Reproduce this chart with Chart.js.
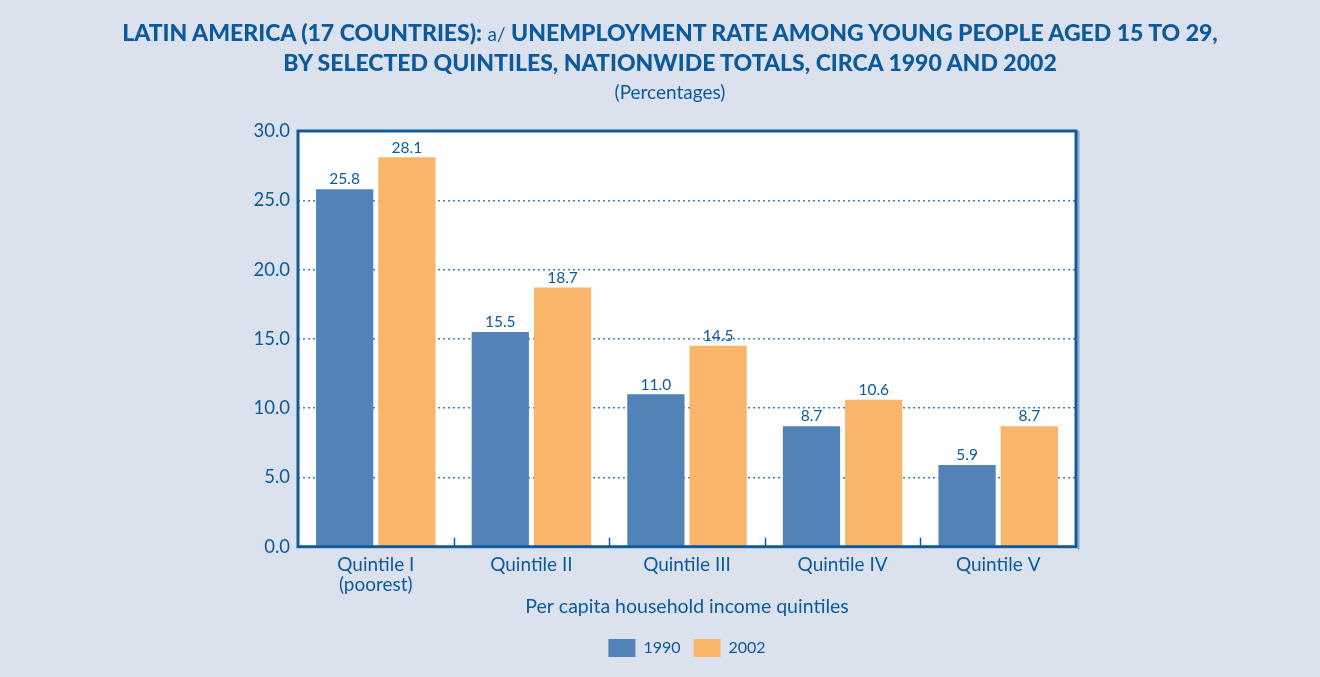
<!DOCTYPE html>
<html>
<head>
<meta charset="utf-8">
<script src="https://cdn.jsdelivr.net/npm/chart.js@4/dist/chart.umd.min.js"></script>
<style>
  html, body { margin: 0; padding: 0; background: #dce1ee; }
  #wrap { position: relative; width: 1320px; height: 677px; }
  #title { position: absolute; left: 0; top: 18px; width: 1340px; text-align: center;
           font-family: Lato, sans-serif; color: #0b5a9c; }
  #title .main { font-weight: 900; font-size: 23px; line-height: 29px; }
  #title .note { font-weight: normal; font-size: 19px; }
  #title .sub { font-size: 19px; line-height: 30px; }
  canvas { position: absolute; left: 0; top: 0; }
</style>
</head>
<body>
<div id="wrap">
  <canvas id="myChart" width="1320" height="677"></canvas>
  <div id="title">
    <div class="main">LATIN AMERICA (17 COUNTRIES): <span class="note">a/</span> UNEMPLOYMENT RATE AMONG YOUNG PEOPLE AGED 15 TO 29,</div>
    <div class="main">BY SELECTED QUINTILES, NATIONWIDE TOTALS, CIRCA 1990 AND 2002</div>
    <div class="sub">(Percentages)</div>
  </div>
</div>
<script>
// Chart data
const quintiles = [['Quintile I', '(poorest)'], 'Quintile II', 'Quintile III', 'Quintile IV', 'Quintile V'];
const rate1990 = [25.8, 15.5, 11.0, 8.7, 5.9];
const rate2002 = [28.1, 18.7, 14.5, 10.6, 8.7];
const yTicks = [0, 5, 10, 15, 20, 25, 30];

const textBlue = '#0b5a9c';
const frameBlue = '#0f5b9b';

// white plot background
const plotBg = {
    id: 'plotBg',
    beforeDraw(chart) {
        const { ctx, chartArea: a } = chart;
        ctx.save();
        ctx.fillStyle = '#ffffff';
        ctx.fillRect(a.left, a.top, a.right - a.left, a.bottom - a.top);
        ctx.restore();
    }
};

// frame around plot, inward ticks between categories, value labels
const framePlugin = {
    id: 'framePlugin',
    afterDatasetsDraw(chart) {
        const { ctx, chartArea: a, scales } = chart;
        const x = scales.x;
        ctx.save();
        // ticks between categories
        ctx.strokeStyle = frameBlue;
        ctx.lineWidth = 1.5;
        const step = (a.right - a.left) / quintiles.length;
        for (let i = 1; i < quintiles.length; i++) {
            const px = Math.round(x.getPixelForValue(i) - step / 2) + 0.5;
            ctx.beginPath();
            ctx.moveTo(px, a.bottom);
            ctx.lineTo(px, a.bottom - 9);
            ctx.stroke();
        }
        // light shadow on right
        ctx.strokeStyle = '#7fa8d4';
        ctx.lineWidth = 2;
        ctx.beginPath();
        ctx.moveTo(a.right + 2.5, a.top);
        ctx.lineTo(a.right + 2.5, a.bottom + 3);
        ctx.stroke();
        // frame
        ctx.strokeStyle = frameBlue;
        ctx.lineWidth = 3;
        ctx.strokeRect(a.left, a.top, a.right - a.left, a.bottom - a.top);
        // value labels
        ctx.fillStyle = textBlue;
        ctx.font = '15.5px Lato, sans-serif';
        ctx.textAlign = 'center';
        ctx.textBaseline = 'bottom';
        chart.data.datasets.forEach((ds, di) => {
            chart.getDatasetMeta(di).data.forEach((bar, i) => {
                ctx.fillText(ds.data[i].toFixed(1), bar.x, bar.y - 2);
            });
        });
        ctx.restore();
    }
};

const ctx = document.getElementById('myChart').getContext('2d');

const myChart = new Chart(ctx, {
    type: 'bar',
    data: {
        labels: quintiles,
        datasets: [{
            label: '1990',
            data: rate1990,
            backgroundColor: '#5282b8',
            barPercentage: 0.92,
            categoryPercentage: 0.8
        }, {
            label: '2002',
            data: rate2002,
            backgroundColor: '#f9b56a',
            barPercentage: 0.92,
            categoryPercentage: 0.8
        }]
    },
    options: {
        responsive: false,
        animation: false,
        layout: {
            padding: { top: 131, right: 244, bottom: 10, left: 0 }
        },
        plugins: {
            legend: {
                position: 'bottom',
                fullSize: false,
                labels: {
                    boxWidth: 27,
                    boxHeight: 18,
                    padding: 13,
                    color: textBlue,
                    font: { family: 'Lato, sans-serif', size: 16 }
                }
            },
            title: { display: false },
            tooltip: { enabled: false }
        },
        scales: {
            x: {
                grid: { display: false },
                border: { display: false },
                ticks: {
                    color: textBlue,
                    padding: 0,
                    font: { family: 'Lato, sans-serif', size: 19, lineHeight: 1.05 }
                },
                title: {
                    display: true,
                    text: 'Per capita household income quintiles',
                    color: textBlue,
                    padding: { top: 0, bottom: 8 },
                    font: { family: 'Lato, sans-serif', size: 19.5 }
                }
            },
            y: {
                min: 0,
                max: 30,
                afterBuildTicks(scale) {
                    scale.ticks = yTicks.map(v => ({ value: v }));
                },
                afterFit(scale) {
                    scale.width = 298;
                },
                ticks: {
                    color: textBlue,
                    padding: 8,
                    font: { family: 'Lato, sans-serif', size: 18.5 },
                    callback: v => v.toFixed(1)
                },
                border: { display: false, dash: [2, 3] },
                grid: {
                    drawTicks: false,
                    color: ctx => (ctx.tick && (ctx.tick.value === 0 || ctx.tick.value === 30)) ? 'rgba(0,0,0,0)' : '#3b7fc2',
                    lineWidth: 1.5
                }
            }
        }
    },
    plugins: [plotBg, framePlugin]
});
</script>
</body>
</html>
